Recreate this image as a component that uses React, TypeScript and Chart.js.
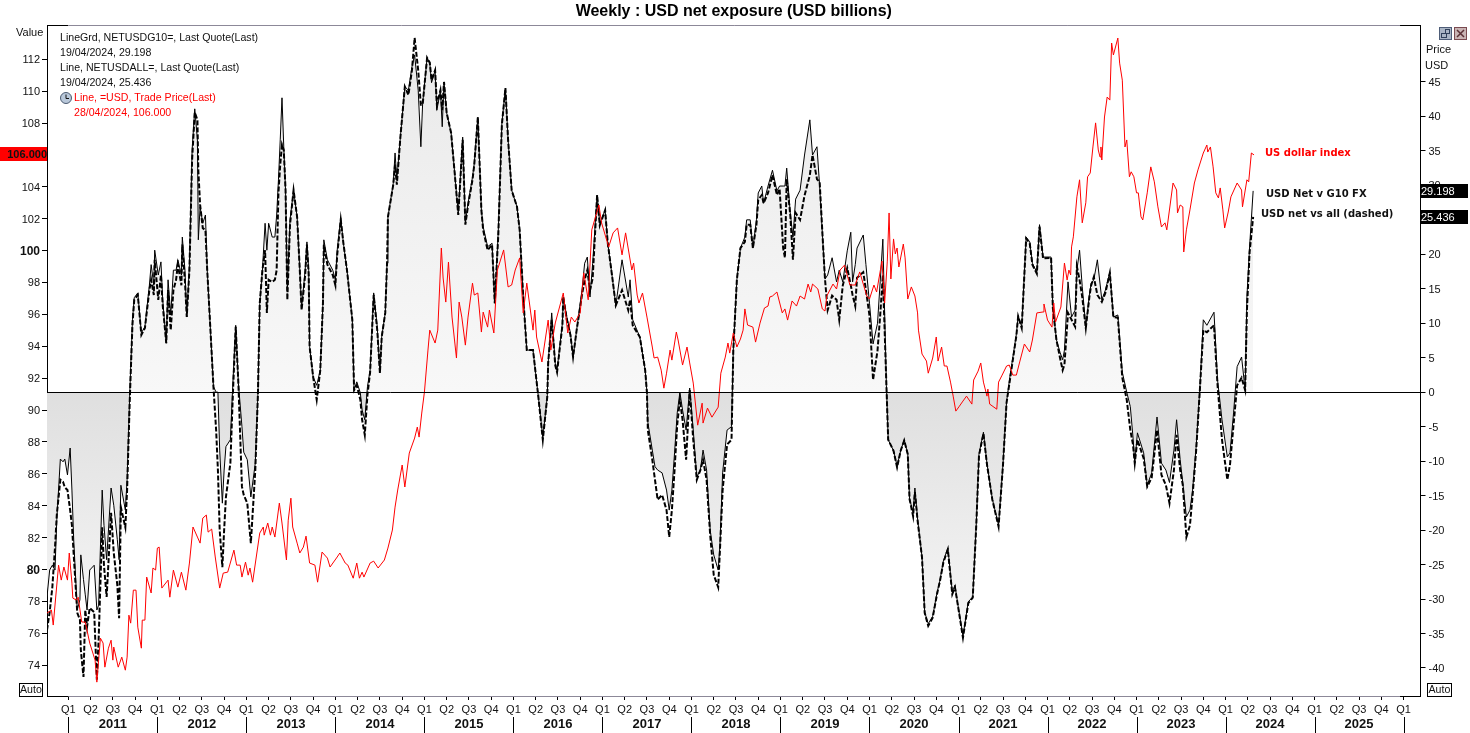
import React, { useEffect, useRef } from "react";
import { Chart, registerables } from "chart.js";

Chart.register(...registerables);

const TITLE = "Weekly : USD net exposure (USD billions)";

const netDates = [
  2010.76,2010.79,2010.82,2010.85,2010.87,2010.91,2010.94,2010.96,2010.99,2011.02,
  2011.04,2011.06,2011.10,2011.13,2011.14,2011.17,2011.19,2011.21,2011.24,2011.29,
  2011.32,2011.34,2011.38,2011.40,2011.43,2011.48,2011.51,2011.55,2011.57,2011.59,
  2011.64,2011.66,2011.67,2011.69,2011.72,2011.74,2011.78,2011.82,2011.86,2011.91,
  2011.93,2011.96,2011.97,2012.01,2012.04,2012.06,2012.10,2012.12,2012.15,2012.18,
  2012.21,2012.23,2012.27,2012.28,2012.31,2012.33,2012.36,2012.39,2012.42,2012.45,
  2012.46,2012.48,2012.51,2012.54,2012.56,2012.59,2012.63,2012.66,2012.68,2012.70,
  2012.73,2012.75,2012.77,2012.82,2012.85,2012.88,2012.91,2012.95,2012.97,2013.01,
  2013.05,2013.10,2013.13,2013.15,2013.18,2013.21,2013.23,2013.25,2013.29,2013.32,
  2013.34,2013.36,2013.38,2013.40,2013.42,2013.44,2013.46,2013.49,2013.53,2013.57,
  2013.60,2013.62,2013.66,2013.68,2013.70,2013.71,2013.75,2013.79,2013.83,2013.86,
  2013.87,2013.91,2013.97,2014.00,2014.02,2014.06,2014.09,2014.13,2014.19,2014.21,
  2014.24,2014.28,2014.30,2014.33,2014.36,2014.39,2014.43,2014.47,2014.50,2014.52,
  2014.56,2014.58,2014.59,2014.65,2014.67,2014.69,2014.73,2014.78,2014.82,2014.86,
  2014.89,2014.93,2014.96,2014.98,2015.03,2015.06,2015.08,2015.12,2015.14,2015.18,
  2015.20,2015.22,2015.25,2015.30,2015.34,2015.38,2015.43,2015.46,2015.49,2015.54,
  2015.56,2015.60,2015.64,2015.66,2015.71,2015.76,2015.79,2015.83,2015.87,2015.91,
  2015.94,2015.98,2016.04,2016.07,2016.11,2016.15,2016.22,2016.28,2016.33,2016.38,
  2016.39,2016.43,2016.47,2016.49,2016.55,2016.56,2016.60,2016.64,2016.67,2016.71,
  2016.77,2016.80,2016.83,2016.86,2016.89,2016.94,2016.97,2017.03,2017.06,2017.11,
  2017.15,2017.22,2017.29,2017.31,2017.34,2017.42,2017.48,2017.50,2017.51,2017.56,
  2017.59,2017.62,2017.67,2017.72,2017.75,2017.78,2017.81,2017.84,2017.87,2017.90,
  2017.94,2017.98,2018.02,2018.06,2018.10,2018.13,2018.17,2018.21,2018.25,2018.30,
  2018.32,2018.35,2018.40,2018.45,2018.47,2018.51,2018.55,2018.60,2018.62,2018.66,
  2018.69,2018.73,2018.75,2018.79,2018.81,2018.86,2018.91,2018.96,2018.99,2019.03,
  2019.05,2019.07,2019.11,2019.14,2019.17,2019.22,2019.27,2019.33,2019.36,2019.41,
  2019.44,2019.48,2019.50,2019.53,2019.58,2019.63,2019.66,2019.70,2019.75,2019.79,
  2019.81,2019.84,2019.86,2019.93,2019.96,2020.00,2020.04,2020.09,2020.12,2020.15,
  2020.19,2020.21,2020.27,2020.31,2020.35,2020.39,2020.43,2020.45,2020.49,2020.51,
  2020.54,2020.59,2020.62,2020.66,2020.71,2020.76,2020.79,2020.83,2020.88,2020.93,
  2020.96,2021.00,2021.05,2021.11,2021.16,2021.20,2021.23,2021.28,2021.32,2021.38,
  2021.45,2021.50,2021.54,2021.58,2021.65,2021.67,2021.71,2021.76,2021.80,2021.83,
  2021.88,2021.91,2021.95,2022.04,2022.06,2022.10,2022.14,2022.17,2022.19,2022.23,
  2022.27,2022.31,2022.33,2022.36,2022.39,2022.43,2022.47,2022.49,2022.52,2022.56,
  2022.61,2022.65,2022.70,2022.74,2022.79,2022.84,2022.89,2022.93,2022.96,2022.98,
  2023.01,2023.08,2023.12,2023.17,2023.23,2023.28,2023.33,2023.37,2023.42,2023.45,
  2023.49,2023.52,2023.56,2023.60,2023.63,2023.67,2023.71,2023.75,2023.79,2023.87,
  2023.91,2023.96,2024.02,2024.05,2024.09,2024.13,2024.18,2024.22,2024.24,2024.27,
  2024.31,
];

const g10Values = [
  -29.7,-25.8,-25.1,-25.8,-18.5,-9.7,-10.1,-9.7,-12,-8.1,
  -14.2,-21.4,-31.6,-30.1,-23.6,-27.2,-29.4,-31.6,-25.8,-25.1,
  -31.6,-30.9,-14.2,-19.3,-24.3,-13.9,-16.4,-21.4,-24.3,-13.5,
  -17.1,-12.7,-8.4,0,10.5,13.7,14.4,8.6,9.5,15.5,
  18.5,15.5,20.6,17,18.9,13.4,7.1,16.3,11.2,17.7,
  17.7,19.2,17,22.5,17.7,10.9,18.5,35.1,41.1,36.6,
  22.1,26.9,24.5,25.7,17.7,10.5,0.8,0,0,-8.4,
  -16.1,-11.3,-7.9,-6.9,1.8,9.7,1.3,-5,-8.7,-9.8,
  -15.2,-10.3,-0.1,12.9,17.7,24.5,20.6,24.5,22.5,22.5,
  25.7,30.8,36.6,42.7,35.6,29.3,14.8,25,29.3,25.4,
  17.7,12.2,17.7,21.8,17.7,6.6,2.2,1,3.2,12.9,
  22.1,19.2,17.7,16.3,20.6,25.3,21.6,17.7,10.5,0.3,
  1.5,-0.1,-2.6,-4,0.8,3.2,14.4,9.5,2.8,8,
  11.5,18.7,25.4,30.3,34.7,30.8,37,44.3,43.8,47.2,
  48.9,43.8,35.6,41.9,48.5,47.8,44.9,46.7,40.9,43.8,
  38.5,45,40.5,37.6,31.8,26,37,24.5,27.4,31.2,
  33.2,39.9,26.4,24,21.1,21.6,12.9,23.5,39,44.1,
  36.6,29.3,26.9,23.5,13.8,6.1,6.1,-0.7,-6.6,-0.7,
  4.2,11.5,4.2,3.2,10,13.8,10.9,8.6,5.1,9,
  14.8,18.7,19.6,13.8,18.7,28.6,24.5,26.4,21.6,16.7,
  12.6,19.2,13.8,16.3,10.5,8,3.2,-0.1,-4.4,-8.4,
  -10.8,-11.3,-11.7,-14.2,-17.1,-14.2,-8.8,-3,0,-2.6,
  -5.5,0.6,-5.5,-12.3,-11.3,-8.4,-11.3,-20,-23.6,-25.8,
  -22.2,-11.7,-5.5,-5,6.1,16.3,20.9,22.5,25,25,
  20.9,25,28.9,29.9,27.4,29.9,32.2,29.2,29.9,29.9,
  29.9,32.5,26,22.5,28,29.3,34.4,39.5,34.4,35.6,
  29.9,20.9,16.4,17,19.5,16,17.7,16,20.5,23.2,
  16,18.5,20.9,22.8,18.5,12.9,7,10,16,22.2,
  1,-6.9,-8.5,-10.7,-8.5,-6.9,-9,-15.5,-17.4,-13.9,
  -18.4,-23.9,-31.9,-33.6,-32.5,-29,-27.4,-24.5,-22.6,-29,
  -28,-31.4,-35.4,-30.4,-29.7,-19,-9,-5.8,-10.4,-15.5,
  -19.3,-10.4,-1.4,2.5,8.4,11.1,9.5,22.5,21.8,18.7,
  17.4,24.3,19.6,19.6,12.4,7.6,5.8,4.7,6.1,16,
  10.9,11.9,17.7,20.6,15.3,9.5,14.1,15.8,16.3,19.2,
  13.4,14.8,17.4,10.9,11.2,2.9,0,-2.1,-6.5,-10.3,
  -5.9,-8.8,-13.5,-11.7,-3.6,-10.3,-11.3,-13.1,-8.4,-4,
  -9.8,-13.2,-18.1,-17.1,-14.2,-7.9,0.3,10.5,9.7,11.6,
  1.8,-4,-9.4,-8.8,-3,3.7,5.1,0.3,13.8,21.1,
  29.198,
];

const allValues = [
  -34.5,-31.9,-28.3,-22.5,-17.8,-12.7,-13,-13.8,-14.2,-17.1,
  -19.3,-23.6,-32,-33,-37.4,-41.3,-31.6,-34,-31.3,-31.9,
  -41.7,-35.9,-19.6,-25.1,-29.7,-17.5,-23.3,-28,-32.8,-16.7,
  -19.6,-14.2,-9.8,-1.1,9.8,13.4,14.1,8.3,9.3,14.8,
  16.3,14.1,19.2,13.4,17,12.6,7.1,14.8,9,14.8,
  16.3,18.5,15.5,21.4,16,10.9,17.7,33.7,40.6,39.5,
  32.2,27.2,23.8,23.5,17.7,10.5,0.8,-5.5,-11.3,-20,
  -25.4,-20,-15.2,-10.3,0.3,9.5,1.3,-13.7,-14.9,-16.1,
  -21.9,-11.3,-0.1,12.9,17.7,20.6,11.5,16.3,16,16.3,
  17.7,28.9,33,35.9,35.1,29.3,13.4,24.3,29.3,25.4,
  17.7,11.9,17,21.4,17,6.6,2.2,-1.1,3.2,12.9,
  21.4,18.5,17,15.5,19.9,25,21.6,17.7,10.5,0.3,
  1,-1.1,-4,-6.2,-0.4,2.9,14.1,9,2.8,8,
  11.5,18.7,25.4,30.1,33,30.1,37,44.3,43.1,46.7,
  51.4,46.7,41.7,41.7,48.5,47.8,45.3,46.7,41.7,43.8,
  40.9,45,40.5,37.6,31.8,25.7,36.6,24.3,27.1,30.8,
  33,39.9,26.4,23.5,20.6,21.4,12.9,22.8,38.8,44.1,
  36.6,29.3,26.9,23.5,13.8,6.1,6.1,-0.7,-6.9,-0.7,
  4.2,10.5,3.9,2.9,9.7,13.8,10.5,8.3,5.1,9,
  14.1,16.3,17.7,14.8,16.5,28.6,24.2,26.4,21.6,16.7,
  12.6,14.8,11.9,13.4,9.7,8,3.2,-0.1,-5.5,-9.8,
  -12.7,-15.6,-14.9,-17.1,-21,-17.1,-11.3,-4.7,-1.1,-4,
  -9.8,0.3,-6.9,-12.7,-11.3,-9.8,-12.7,-20.7,-26.5,-28.3,
  -22.9,-14.2,-7.6,-6.9,6.1,16.3,20.9,21.8,24.3,24.3,
  20.9,24.3,27.9,28.6,27.4,28.9,31.5,28.6,29.5,20.9,
  19.5,30.9,25.7,19.2,26,25,28.5,31.5,34.4,30.9,
  30.5,20.9,16.4,11.9,14,13.4,10.5,15.5,18,15.5,
  14.1,12.5,16.6,17.4,14.8,11.1,1.8,6,11.1,17,
  1,-6.9,-8.5,-10.9,-8.5,-7,-9,-15.5,-18,-14.5,
  -18.6,-24,-32,-33.9,-32.7,-29.2,-27.5,-24.7,-22.8,-29.3,
  -28.3,-31.5,-35.6,-30.6,-29.8,-19.2,-9.2,-6,-10.5,-15.6,
  -19.5,-10.5,-1.5,2,8.2,11,9.3,22.3,21.6,18.5,
  17.2,24,19.4,19.5,12.2,7.6,5,3.2,4,11.5,
  10.5,9.5,18.2,16.3,13.8,9.3,13.8,15.5,16.7,14.1,
  13.1,14.4,17.3,10.9,10.8,2.1,-1.1,-5.5,-7.6,-10.3,
  -6.9,-9.6,-13.7,-12.4,-5.5,-12,-13.5,-16.1,-11.3,-6.2,
  -11.3,-13.5,-21,-19.3,-14.9,-8.4,0,9,8.7,9.7,
  1,-6.9,-12.7,-10.5,-4.7,1,2.1,0.3,11.9,20.3,
  25.436,
];

const dxyDates = [
  2010.76,2010.81,2010.83,2010.89,2010.92,2010.95,2010.99,2011.01,2011.04,2011.05,
  2011.09,2011.11,2011.15,2011.19,2011.24,2011.30,2011.32,2011.36,2011.39,2011.41,
  2011.45,2011.48,2011.50,2011.51,2011.56,2011.60,2011.64,2011.66,2011.68,2011.70,
  2011.73,2011.76,2011.78,2011.82,2011.83,2011.86,2011.88,2011.93,2011.95,2011.98,
  2012.00,2012.02,2012.05,2012.12,2012.14,2012.18,2012.23,2012.27,2012.32,2012.36,
  2012.40,2012.45,2012.48,2012.51,2012.55,2012.57,2012.61,2012.65,2012.70,2012.74,
  2012.79,2012.86,2012.89,2012.93,2012.95,2012.99,2013.02,2013.04,2013.07,2013.15,
  2013.19,2013.20,2013.24,2013.27,2013.29,2013.32,2013.37,2013.40,2013.45,2013.47,
  2013.50,2013.52,2013.57,2013.60,2013.64,2013.67,2013.71,2013.77,2013.80,2013.85,
  2013.91,2013.94,2014.02,2014.05,2014.11,2014.14,2014.20,2014.24,2014.27,2014.30,
  2014.32,2014.39,2014.43,2014.48,2014.55,2014.59,2014.64,2014.67,2014.70,2014.75,
  2014.78,2014.83,2014.89,2014.92,2014.94,2014.97,2015.00,2015.04,2015.06,2015.12,
  2015.15,2015.19,2015.21,2015.24,2015.27,2015.31,2015.36,2015.39,2015.42,2015.46,
  2015.49,2015.54,2015.56,2015.60,2015.64,2015.66,2015.71,2015.73,2015.78,2015.82,
  2015.89,2015.94,2015.98,2016.02,2016.07,2016.11,2016.15,2016.22,2016.24,2016.26,
  2016.32,2016.39,2016.42,2016.47,2016.56,2016.61,2016.65,2016.69,2016.75,2016.79,
  2016.84,2016.88,2016.96,2016.99,2017.07,2017.12,2017.17,2017.22,2017.26,2017.33,
  2017.35,2017.39,2017.41,2017.45,2017.50,2017.56,2017.58,2017.62,2017.66,2017.69,
  2017.72,2017.76,2017.78,2017.83,2017.85,2017.90,2017.95,2017.98,2018.02,2018.07,
  2018.12,2018.13,2018.18,2018.23,2018.30,2018.33,2018.38,2018.41,2018.43,2018.47,
  2018.51,2018.55,2018.58,2018.60,2018.63,2018.69,2018.72,2018.77,2018.82,2018.86,
  2018.88,2018.91,2018.96,2019.02,2019.05,2019.08,2019.13,2019.18,2019.22,2019.27,
  2019.31,2019.34,2019.36,2019.42,2019.47,2019.50,2019.52,2019.59,2019.63,2019.67,
  2019.72,2019.78,2019.84,2019.89,2019.97,2020.00,2020.05,2020.08,2020.14,2020.17,
  2020.20,2020.22,2020.24,2020.27,2020.29,2020.31,2020.33,2020.38,2020.40,2020.43,
  2020.47,2020.51,2020.54,2020.55,2020.59,2020.64,2020.66,2020.71,2020.75,2020.77,
  2020.81,2020.84,2020.87,2020.91,2020.94,2020.97,2021.01,2021.05,2021.09,2021.15,
  2021.17,2021.22,2021.25,2021.28,2021.32,2021.33,2021.35,2021.43,2021.45,2021.49,
  2021.54,2021.57,2021.61,2021.65,2021.69,2021.74,2021.80,2021.83,2021.88,2021.95,
  2021.96,2022.00,2022.05,2022.07,2022.09,2022.15,2022.19,2022.22,2022.24,2022.26,
  2022.27,2022.29,2022.33,2022.36,2022.39,2022.43,2022.45,2022.48,2022.51,2022.54,
  2022.57,2022.59,2022.60,2022.61,2022.64,2022.67,2022.70,2022.72,2022.74,2022.79,
  2022.81,2022.84,2022.87,2022.89,2022.92,2022.94,2022.97,2023.00,2023.02,2023.05,
  2023.07,2023.12,2023.16,2023.20,2023.24,2023.28,2023.32,2023.34,2023.41,2023.45,
  2023.46,2023.49,2023.52,2023.53,2023.56,2023.60,2023.65,2023.69,2023.75,2023.79,
  2023.80,2023.83,2023.86,2023.89,2023.92,2023.94,2023.97,2023.99,2024.03,2024.06,
  2024.13,2024.18,2024.19,2024.24,2024.26,2024.29,2024.32,
];

const dxyValues = [
  77.26,77.45,76.51,80.27,79.33,80.15,79.33,81.03,79.14,78.2,
  78.08,78.26,76.7,76.7,75.38,74.31,72.93,75.69,75.38,73.87,
  75.06,75.56,74.31,75.13,73.87,74.5,73.68,74.5,77.13,76.63,
  78.7,78.7,76.38,75.06,76.82,76.82,79.52,78.52,80.09,79.96,
  81.34,81.4,78.83,79.33,78.26,79.96,78.89,79.83,78.7,80.4,
  82.66,82.03,81.65,83.22,83.41,82.34,82.53,80.78,78.83,79.77,
  79.83,81.21,80.27,80.27,79.52,80.46,79.64,80.09,79.2,82.28,
  82.66,82.15,82.91,82.15,82.66,82.03,84.16,82.91,80.59,83.09,
  84.47,82.66,81.65,81.03,81.4,82.09,80.4,80.27,79.2,81.09,
  80.71,80.15,80.78,81.03,80.4,80.27,79.45,80.4,79.45,79.83,
  79.52,80.4,80.52,80.09,80.59,81.34,82.47,83.91,84.98,86.55,
  85.17,87.3,88.24,88.93,88.3,89.81,91.13,93.76,95.01,94.2,
  95.01,100.16,98.28,96.77,99.28,95.83,93.26,96.77,95.83,94.07,
  95.83,97.96,97.21,97.34,94.89,96.14,95.2,96.27,94.83,98.78,
  100.04,97.72,97.84,98.78,99.54,96.09,97.96,95.01,96.27,94.58,
  93.01,95.64,93.76,95.46,97.34,94.83,95.83,95.52,96.09,98.6,
  96.91,101.3,102.86,101.74,100.23,101.11,101.42,99.73,101.11,98.78,
  99.22,97.21,96.71,97.34,95.83,93.95,93.26,93.32,92.5,91.37,
  92.31,93.76,93.13,94.89,94.39,92.82,93.95,92.95,91.69,89.05,
  90.43,89.18,90.12,89.55,90.18,92.31,93.32,94.2,93.57,94.83,
  93.95,94.45,95.01,96.34,95.33,95.2,94.26,95.45,96.4,96.52,
  97.09,97.15,97.4,96.09,96.34,95.64,96.84,96.52,97.15,96.96,
  97.9,97.4,97.9,97.59,96.34,96.21,97.15,97.9,97.59,98.78,
  99.09,97.84,97.84,98.66,97.15,96.96,97.84,97.4,99.34,96.71,
  99.34,102.36,98.22,100.73,99.79,100.16,98.97,100.41,99.54,96.96,
  97.72,97.15,96.09,95.01,93.51,93.07,92.31,93.26,94.58,93.07,
  93.95,92.76,92.76,91.75,90.87,89.93,90.24,90.56,90.87,90.37,
  91.88,92.44,92.95,91.75,90.87,91.31,90.37,90.05,91.75,92.19,
  92.76,92.82,92.19,92.19,93.07,94.14,93.64,94.39,96.09,96.15,
  96.65,95.64,95.2,96.71,95.52,96.46,99.22,98.15,98.78,98.47,
  100.23,100.86,103.37,104.44,101.74,103,104.63,104.87,106.5,108.01,
  106.31,105.87,106.5,105.68,108.38,109.63,109.44,113.02,112.27,113.33,
  111.76,110.69,106.5,106.94,104.63,104.94,104.63,103.62,103.62,102.12,
  101.92,103.62,105.25,104.31,102.74,101.48,101.74,101.3,104.24,103.8,
  102.36,102.86,102.74,99.91,101.3,102.55,104.24,105.06,106.12,106.62,
  106.18,106.5,105.25,103.62,103.3,103.93,102.55,101.42,102.42,103.37,
  104.24,103.8,102.74,104.44,104.31,106.12,106,
];

const leftTicks = [74,76,78,80,82,84,86,88,90,92,94,96,98,100,102,104,106,108,110,112];
const rightTicks = [-40,-35,-30,-25,-20,-15,-10,-5,0,5,10,15,20,25,30,35,40,45];
const quarterNames = ["Q1","Q2","Q3","Q4"];
const labelledYears = [2011,2012,2013,2014,2015,2016,2017,2018,2019,2020,2021,2022,2023,2024,2025];
const legendLines = [
  "LineGrd, NETUSDG10=, Last Quote(Last)",
  "19/04/2024, 29.198",
  "Line, NETUSDALL=, Last Quote(Last)",
  "19/04/2024, 25.436",
  "Line, =USD, Trade Price(Last)",
  "28/04/2024, 106.000",
];

const ARIAL = '"Liberation Sans", Arial, sans-serif';
const BOLDNOTE = '"DejaVu Sans", Verdana, sans-serif';

const pairs = (xs: number[], ys: number[]) => xs.map((x, i) => ({ x, y: ys[i] }));

const overlay = {
  id: "overlay",
  afterDatasetsDraw(chart: any) {
    const { ctx, chartArea: a, scales } = chart;
    const x = scales.x;
    ctx.save();
    // zero line
    const yz = Math.round(scales.yRight.getPixelForValue(0)) + 0.5;
    ctx.strokeStyle = "#000";
    ctx.lineWidth = 1;
    ctx.beginPath();
    ctx.moveTo(a.left, yz);
    ctx.lineTo(a.right, yz);
    ctx.stroke();

    // frame, top and bottom: grey middle with black ends
    const gx0 = x.getPixelForValue(2011);
    const gx1 = x.getPixelForValue(2025.96);
    for (const y of [Math.round(a.top) + 0.5, Math.round(a.bottom) + 0.5]) {
      ctx.strokeStyle = "#000";
      ctx.beginPath();
      ctx.moveTo(a.left, y);
      ctx.lineTo(gx0, y);
      ctx.moveTo(gx1, y);
      ctx.lineTo(a.right, y);
      ctx.stroke();
      ctx.strokeStyle = "#8c8898";
      ctx.beginPath();
      ctx.moveTo(gx0, y);
      ctx.lineTo(gx1, y);
      ctx.stroke();
    }

    // year separators
    ctx.strokeStyle = "#000";
    for (const yr of [...labelledYears, 2026]) {
      const px = Math.round(x.getPixelForValue(yr)) + 0.5;
      ctx.beginPath();
      ctx.moveTo(px, a.bottom + 21);
      ctx.lineTo(px, 733);
      ctx.stroke();
    }

    // legend block
    ctx.textBaseline = "middle";
    ctx.textAlign = "left";
    ctx.font = `10.6px ${ARIAL}`;
    legendLines.forEach((t, i) => {
      ctx.fillStyle = i < 4 ? "#111" : "#f00";
      ctx.fillText(t, i < 4 ? 60 : 74, 38.5 + i * 15);
    });
    // clock icon
    ctx.beginPath();
    ctx.arc(66, 98, 5.5, 0, Math.PI * 2);
    ctx.fillStyle = "#b9c8da";
    ctx.fill();
    ctx.strokeStyle = "#4a5a70";
    ctx.stroke();
    ctx.strokeStyle = "#111";
    ctx.beginPath();
    ctx.moveTo(66, 94.5);
    ctx.lineTo(66, 98.5);
    ctx.lineTo(69, 98.5);
    ctx.stroke();

    // axis captions
    ctx.font = `11px ${ARIAL}`;
    ctx.fillStyle = "#111";
    ctx.fillText("Value", 16, 33);
    ctx.fillText("Price", 1426, 50);
    ctx.fillText("USD", 1425, 66);

    // series annotations
    ctx.font = `bold 10px ${BOLDNOTE}`;
    ctx.fillStyle = "#f00";
    ctx.fillText("US dollar index", 1265, 153);
    ctx.fillStyle = "#111";
    ctx.fillText("USD Net v G10 FX", 1266, 194);
    ctx.fillText("USD net vs all (dashed)", 1261, 214);

    // last value tags
    const lastDxy = dxyValues[dxyValues.length - 1];
    const lastG10 = g10Values[g10Values.length - 1];
    const lastAll = allValues[allValues.length - 1];
    const yD = Math.round(scales.yLeft.getPixelForValue(lastDxy)) - 1;
    ctx.fillStyle = "#f00";
    ctx.fillRect(0, yD - 7, 47, 14);
    ctx.fillStyle = "#111";
    ctx.font = `bold 11px ${ARIAL}`;
    ctx.textAlign = "right";
    ctx.fillText(lastDxy.toFixed(3), 47, yD + 0.5);
    ctx.textAlign = "left";
    ctx.font = `11px ${ARIAL}`;
    for (const v of [lastG10, lastAll]) {
      const y = Math.round(scales.yRight.getPixelForValue(v));
      ctx.fillStyle = "#000";
      ctx.fillRect(1421, y - 7, 47, 14);
      ctx.fillStyle = "#fff";
      ctx.fillText(v.toFixed(3), 1421, y + 0.5);
    }

    // Auto boxes
    ctx.font = `10.6px ${ARIAL}`;
    ctx.strokeStyle = "#000";
    ctx.fillStyle = "#111";
    ctx.strokeRect(19.5, 683.5, 23, 13);
    ctx.fillText("Auto", 20, 690.5);
    ctx.strokeRect(1427.5, 683.5, 24, 13);
    ctx.fillText("Auto", 1428.5, 690.5);

    // window icons
    ctx.fillStyle = "#a9b4c4";
    ctx.fillRect(1439.5, 27.5, 12, 12);
    ctx.strokeStyle = "#4e5d78";
    ctx.strokeRect(1439.5, 27.5, 12, 12);
    ctx.strokeStyle = "#30405a";
    ctx.strokeRect(1445.5, 29.5, 4, 4);
    ctx.strokeRect(1441.5, 33.5, 5, 4);
    ctx.fillStyle = "#c9b4b4";
    ctx.fillRect(1454.5, 27.5, 12, 12);
    ctx.strokeStyle = "#7a4a50";
    ctx.strokeRect(1454.5, 27.5, 12, 12);
    ctx.strokeStyle = "#5a3036";
    ctx.lineWidth = 1.5;
    ctx.beginPath();
    ctx.moveTo(1457, 30);
    ctx.lineTo(1464, 37);
    ctx.moveTo(1464, 30);
    ctx.lineTo(1457, 37);
    ctx.stroke();
    ctx.restore();
  },
};

export default function App() {
  const ref = useRef<HTMLCanvasElement | null>(null);
  useEffect(() => {
    document.body.style.margin = "0";
    const canvas = ref.current!;
    const ctx = canvas.getContext("2d")!;
    const above = ctx.createLinearGradient(0, 40, 0, 392);
    above.addColorStop(0, "#e9e9e9");
    above.addColorStop(1, "#f8f8f8");
    const below = ctx.createLinearGradient(0, 392, 0, 640);
    below.addColorStop(0, "#dfdfdf");
    below.addColorStop(1, "#f7f7f7");

    const tickColor = "#111";
    const chart = new Chart(canvas, {
      type: "line",
      data: {
        datasets: [
          {
            label: "US dollar index",
            data: pairs(dxyDates, dxyValues),
            yAxisID: "yLeft",
            xAxisID: "x",
            borderColor: "#f00",
            borderWidth: 1,
            pointRadius: 0,
            tension: 0,
            fill: false,
          },
          {
            label: "USD net vs all (dashed)",
            data: pairs(netDates, allValues),
            yAxisID: "yRight",
            xAxisID: "x",
            borderColor: "#000",
            borderWidth: 2,
            borderDash: [5, 2],
            pointRadius: 0,
            tension: 0,
            fill: false,
          },
          {
            label: "USD Net v G10 FX",
            data: pairs(netDates, g10Values),
            yAxisID: "yRight",
            xAxisID: "x",
            borderColor: "#000",
            borderWidth: 1,
            pointRadius: 0,
            tension: 0,
            fill: { target: { value: 0 }, above, below },
          },
        ],
      } as any,
      options: {
        animation: false,
        responsive: false,
        devicePixelRatio: 1,
        parsing: false,
        normalized: true,
        layout: { padding: 0 },
        plugins: {
          legend: { display: false },
          tooltip: { enabled: false },
          title: {
            display: true,
            text: TITLE,
            color: "#000",
            fullSize: false,
            font: { family: ARIAL, size: 16, weight: "bold" },
            padding: { top: 2, bottom: 3.8 },
          },
        },
        scales: {
          x: {
            type: "linear",
            position: "bottom",
            weight: 0,
            min: 2010.76,
            max: 2026.19,
            afterBuildTicks: (s: any) => {
              const t: any[] = [];
              for (const y of labelledYears) for (let q = 0; q < 4; q++) t.push({ value: y + q / 4 });
              t.push({ value: 2026 });
              s.ticks = t;
            },
            afterFit: (s: any) => { s.height = 19; },
            grid: { drawOnChartArea: false, drawTicks: true, tickLength: 4, color: "#000", tickColor: "#000" },
            border: { display: false },
            ticks: {
              autoSkip: false,
              maxRotation: 0,
              padding: 3,
              color: tickColor,
              font: { family: ARIAL, size: 11 },
              callback: (v: any) => {
                const f = Number(v) - Math.floor(Number(v));
                return quarterNames[Math.round(f * 4) % 4];
              },
            },
          },
          years: {
            type: "linear",
            position: "bottom",
            weight: 1,
            min: 2010.76,
            max: 2026.19,
            afterBuildTicks: (s: any) => { s.ticks = labelledYears.map((y) => ({ value: y + 0.5 })); },
            afterFit: (s: any) => { s.height = 18; },
            grid: { display: false, drawTicks: false },
            border: { display: false },
            ticks: {
              autoSkip: false,
              maxRotation: 0,
              padding: 2,
              color: "#111",
              font: { family: ARIAL, size: 13, weight: "bold" },
              callback: (v: any) => String(Math.floor(Number(v))),
            },
          },
          yLeft: {
            type: "linear",
            position: "left",
            min: 72.06,
            max: 114.15,
            afterBuildTicks: (s: any) => { s.ticks = leftTicks.map((value) => ({ value })); },
            afterFit: (s: any) => { s.width = 47; },
            grid: { drawOnChartArea: false, tickLength: 5, color: "#000", tickColor: "#000" },
            border: { display: true, color: "#000", width: 1 },
            ticks: {
              autoSkip: false,
              padding: 2,
              labelOffset: 1,
              color: tickColor,
              font: (c: any) =>
                c.tick && (c.tick.value === 100 || c.tick.value === 80)
                  ? { family: ARIAL, size: 12, weight: "bold" }
                  : { family: ARIAL, size: 11 },
              callback: (v: any) => String(v),
            },
          },
          yRight: {
            type: "linear",
            position: "right",
            min: -44.07,
            max: 53.26,
            afterBuildTicks: (s: any) => { s.ticks = rightTicks.map((value) => ({ value })); },
            afterFit: (s: any) => { s.width = 49.5; },
            grid: { drawOnChartArea: false, tickLength: 5, color: "#000", tickColor: "#000" },
            border: { display: true, color: "#000", width: 1 },
            ticks: {
              autoSkip: false,
              padding: 3,
              labelOffset: 1,
              color: tickColor,
              font: { family: ARIAL, size: 11 },
              callback: (v: any) => String(v),
            },
          },
        },
      } as any,
      plugins: [overlay],
    });
    return () => chart.destroy();
  }, []);
  return <canvas ref={ref} width={1470} height={733} style={{ display: "block", width: 1470, height: 733 }} />;
}
